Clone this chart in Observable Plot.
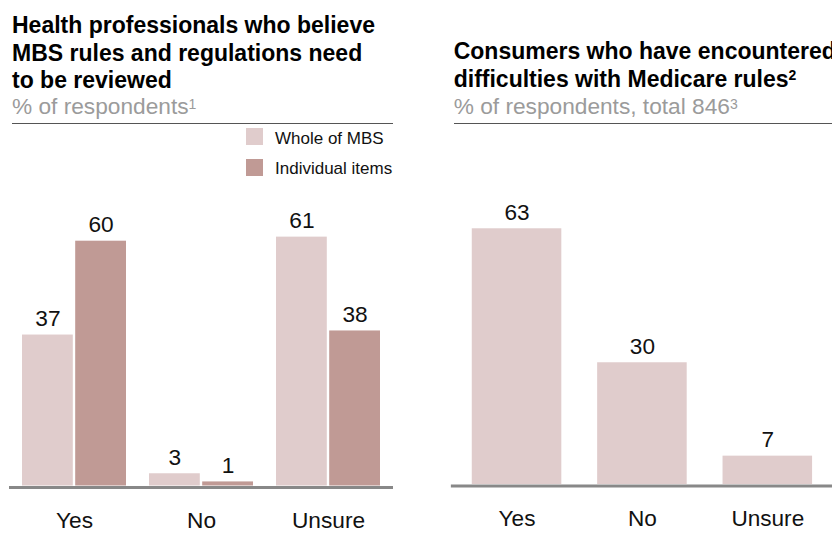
<!DOCTYPE html>
<html><head><meta charset="utf-8">
<script src="https://cdn.jsdelivr.net/npm/d3@7"></script>
<script src="https://cdn.jsdelivr.net/npm/@observablehq/plot@0.6"></script>
<style>
html,body{margin:0;padding:0;background:#fff;}
body{width:832px;height:533px;overflow:hidden;position:relative;font-family:"Liberation Sans",Arial,Helvetica,sans-serif;}
.abs{position:absolute;white-space:nowrap;}
.title{font-weight:bold;font-size:23px;line-height:27.5px;color:#000;}
.sub{font-size:22.7px;line-height:27.5px;color:#9b9b9b;}
.sup{font-size:14px;line-height:0;vertical-align:5px;}
.tsup{font-size:14px;line-height:0;vertical-align:7px;}
.hr{position:absolute;height:1.3px;background:#555;}
.sw{position:absolute;width:17px;height:17px;}
.lg{position:absolute;font-size:17px;line-height:17px;color:#111;white-space:nowrap;}
.chart{position:absolute;}
</style>
</head><body>
<div class="abs title" style="left:12px;top:12.3px;">Health professionals who believe<br>MBS rules and regulations need<br>to be reviewed</div>
<div class="abs sub" style="left:12px;top:93.4px;">% of respondents<span class="sup">1</span></div>
<div class="hr" style="left:12px;top:122.7px;width:381px;"></div>

<div class="abs title" style="left:453.7px;top:38.3px;">Consumers who have encountered<br>difficulties with Medicare rules<span class="tsup">2</span></div>
<div class="abs sub" style="left:453.7px;top:93.4px;">% of respondents, total 846<span class="sup">3</span></div>
<div class="hr" style="left:453.7px;top:122.7px;width:380px;"></div>

<div id="legend"></div>
<div id="left" class="chart" style="left:0px;top:190px;"></div>
<div id="right" class="chart" style="left:420px;top:190px;"></div>

<script>
// ---- data ----
const categories = ["Yes", "No", "Unsure"];
const seriesNames = ["Whole of MBS", "Individual items"];
const wholeOfMBS = [37, 3, 61];
const individualItems = [60, 1, 38];
const consumerValues = [63, 30, 7];
const seriesColors = ["#e0cccc", "#c09a95"];

const wholeData = categories.map((c, i) => ({category: c, value: wholeOfMBS[i]}));
const indivData = categories.map((c, i) => ({category: c, value: individualItems[i]}));
const consumerData = categories.map((c, i) => ({category: c, value: consumerValues[i]}));

// legend (HTML)
const legend = document.getElementById("legend");
seriesNames.forEach((name, i) => {
  const sw = document.createElement("div");
  sw.className = "sw";
  sw.style.left = "246px";
  sw.style.top = (128 + i * 31) + "px";
  sw.style.background = seriesColors[i];
  legend.appendChild(sw);
  const t = document.createElement("div");
  t.className = "lg";
  t.style.left = "275px";
  t.style.top = (129.6 + i * 30.6) + "px";
  t.textContent = name;
  legend.appendChild(t);
});

const font = "'Liberation Sans', Arial, Helvetica, sans-serif";
const fs = 22.7;
const common = {
  height: 343,
  marginTop: 9.9,
  marginBottom: 47.5,
  y: {domain: [0, 70], axis: null},
  style: {fontFamily: font, fontSize: fs + "px", color: "#111", background: "transparent", overflow: "visible"}
};

const leftPlot = Plot.plot({
  ...common,
  width: 400,
  marginLeft: 9,
  marginRight: 7,
  x: {domain: categories, paddingInner: 0.18, paddingOuter: 0.098},
  marks: [
    Plot.barY(wholeData, {x: "category", y: "value", fill: seriesColors[0], insetRight: 53.2}),
    Plot.barY(indivData, {x: "category", y: "value", fill: seriesColors[1], insetLeft: 53.2}),
    Plot.ruleY([0], {stroke: "#888", strokeWidth: 3, dy: 1.5}),
    Plot.text(wholeData, {x: "category", y: "value", text: d => String(d.value), dx: -26.6, dy: -9, lineAnchor: "bottom", fill: "#111", fontSize: fs}),
    Plot.text(indivData, {x: "category", y: "value", text: d => String(d.value), dx: 26.6, dy: -9, lineAnchor: "bottom", fill: "#111", fontSize: fs}),
    Plot.axisX({tickSize: 0, tickPadding: 26, fontSize: fs, label: null})
  ]
});
document.getElementById("left").appendChild(leftPlot);

const rightPlot = Plot.plot({
  ...common,
  width: 414,
  marginLeft: 31,
  marginRight: 0,
  x: {domain: categories, paddingInner: 0.289, paddingOuter: 0.158},
  marks: [
    Plot.barY(consumerData, {x: "category", y: "value", fill: seriesColors[0]}),
    Plot.ruleY([0], {stroke: "#888", strokeWidth: 3, dy: 1.5}),
    Plot.text(consumerData, {x: "category", y: "value", text: d => String(d.value), dy: -9, lineAnchor: "bottom", fill: "#111", fontSize: fs}),
    Plot.axisX({tickSize: 0, tickPadding: 26, fontSize: fs, label: null})
  ]
});
document.getElementById("right").appendChild(rightPlot);
</script>
</body></html>
